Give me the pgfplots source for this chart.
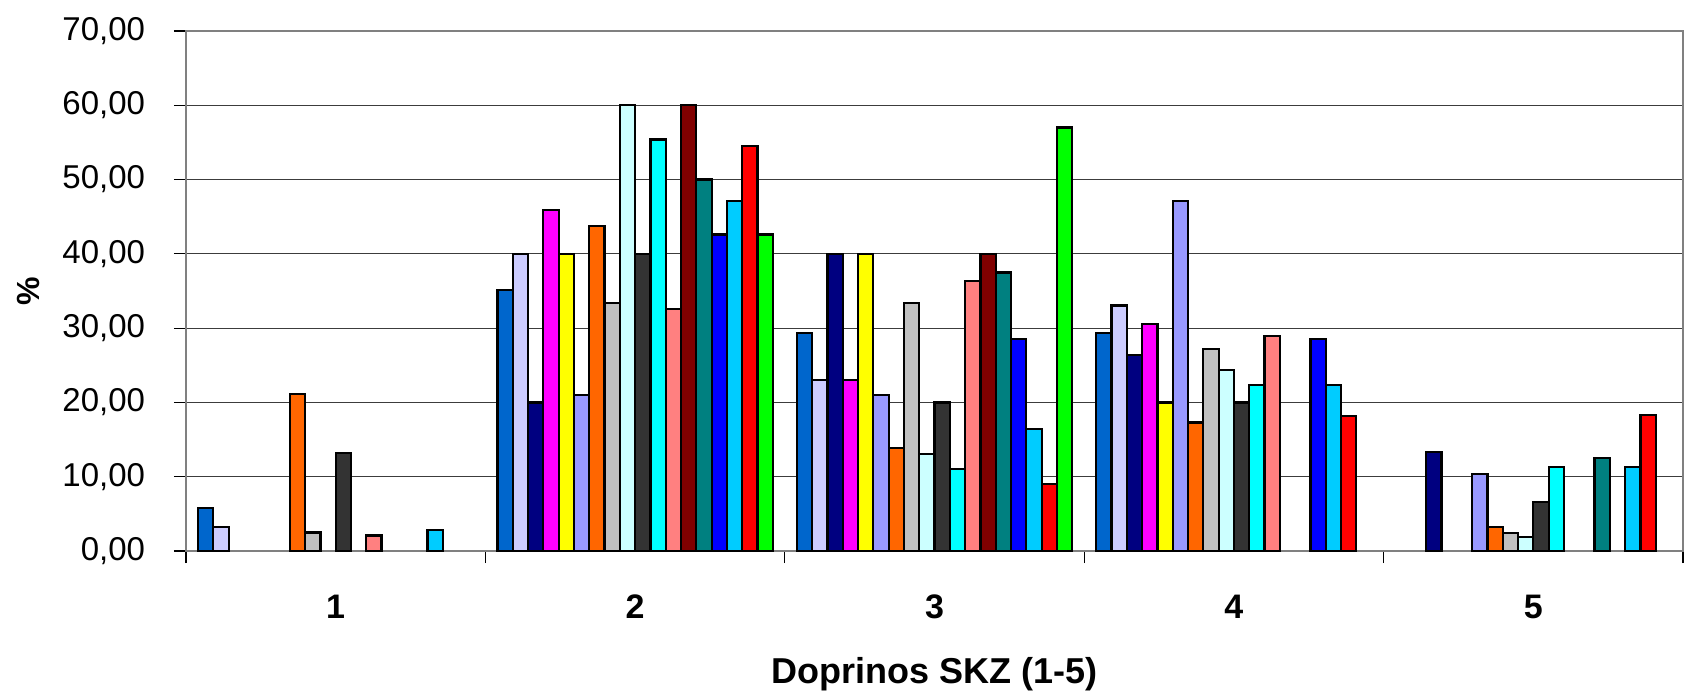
\documentclass[border=0pt]{standalone}
\usepackage{fontspec}
\setmainfont{Liberation Sans}
\usepackage{pgfplots}
\pgfplotsset{compat=1.18}

\definecolor{s0}{HTML}{0066CC}
\definecolor{s1}{HTML}{CCCCFF}
\definecolor{s2}{HTML}{000080}
\definecolor{s3}{HTML}{FF00FF}
\definecolor{s4}{HTML}{FFFF00}
\definecolor{s5}{HTML}{9999FF}
\definecolor{s6}{HTML}{FF6600}
\definecolor{s7}{HTML}{C0C0C0}
\definecolor{s8}{HTML}{CCFFFF}
\definecolor{s9}{HTML}{333333}
\definecolor{s10}{HTML}{00FFFF}
\definecolor{s11}{HTML}{FF8080}
\definecolor{s12}{HTML}{800000}
\definecolor{s13}{HTML}{008080}
\definecolor{s14}{HTML}{0000FF}
\definecolor{s15}{HTML}{00CCFF}
\definecolor{s16}{HTML}{FF0000}
\definecolor{s17}{HTML}{00FF00}
\definecolor{frame}{HTML}{808080}
\definecolor{gridc}{HTML}{3C3C3C}

\begin{document}
\begin{tikzpicture}
% picture frame, 1 px of the reference = 0.5pt
\useasboundingbox (-93pt,-72.5pt) rectangle (750pt,275.5pt);
\begin{axis}[
    at={(0,0)}, anchor=south west,
    scale only axis,
    width=748.5pt, height=260pt,
    ybar=0pt,
    bar width=0.0511,
    xmin=0.5, xmax=5.5,
    ymin=0, ymax=70,
    ytick={0,10,...,70},
    xtick={0.5,1.5,...,5.5},
    xticklabels={},
    extra x ticks={1,2,3,4,5},
    extra x tick labels={1,2,3,4,5},
    extra x tick style={
        major tick length=0pt,
        tick label style={anchor=center, yshift=-28pt,
            font=\fontsize{17}{20}\selectfont\bfseries},
    },
    xtick pos=lower, ytick pos=left,
    tick align=outside,
    major tick length=6pt,
    tick style={draw=black, line width=0.6pt},
    ymajorgrids=true,
    major grid style={draw=gridc, line width=0.6pt},
    axis line style={draw=frame, line width=1.1pt},
    /pgf/number format/.cd, fixed, fixed zerofill, precision=2, use comma,
    assume math mode=true,
    /pgfplots/.cd,
    yticklabel style={anchor=east, inner sep=0pt, xshift=-14.3pt,
        font=\fontsize{16.5}{19}\selectfont},
    ylabel={\%},
    ylabel style={at={(axis description cs:-0.1055,0.5)}, anchor=center,
        font=\fontsize{16}{19}\selectfont\bfseries},
    xlabel={Doprinos SKZ (1-5)},
    xlabel style={at={(axis description cs:0.5,0)}, anchor=center,
        yshift=-61.5pt, font=\fontsize{18}{21}\selectfont\bfseries},
    every axis plot/.append style={draw=black, line width=1.1pt},
]
\addplot[fill=s0]  coordinates {(1,5.75) (2,35.1) (3,29.3) (4,29.3)};
\addplot[fill=s1]  coordinates {(1,3.27) (2,40.0) (3,23.0) (4,33.05)};
\addplot[fill=s2]  coordinates {(2,20.0) (3,40.0) (4,26.4) (5,13.3)};
\addplot[fill=s3]  coordinates {(2,45.9) (3,23.0) (4,30.6)};
\addplot[fill=s4]  coordinates {(2,40.0) (3,40.0) (4,20.0)};
\addplot[fill=s5]  coordinates {(2,21.0) (3,21.0) (4,47.1) (5,10.4)};
\addplot[fill=s6]  coordinates {(1,21.1) (2,43.8) (3,13.9) (4,17.3) (5,3.25)};
\addplot[fill=s7]  coordinates {(1,2.48) (2,33.4) (3,33.4) (4,27.2) (5,2.4)};
\addplot[fill=s8]  coordinates {(2,60.0) (3,13.05) (4,24.4) (5,1.9)};
\addplot[fill=s9]  coordinates {(1,13.24) (2,40.0) (3,20.0) (4,20.0) (5,6.6)};
\addplot[fill=s10] coordinates {(2,55.4) (3,11.0) (4,22.3) (5,11.3)};
\addplot[fill=s11] coordinates {(1,2.08) (2,32.6) (3,36.3) (4,28.9)};
\addplot[fill=s12] coordinates {(2,60.0) (3,40.0)};
\addplot[fill=s13] coordinates {(2,50.0) (3,37.5) (5,12.5)};
\addplot[fill=s14] coordinates {(2,42.6) (3,28.5) (4,28.5)};
\addplot[fill=s15] coordinates {(1,2.88) (2,47.1) (3,16.45) (4,22.3) (5,11.3)};
\addplot[fill=s16] coordinates {(2,54.5) (3,9.0) (4,18.2) (5,18.3)};
\addplot[fill=s17] coordinates {(2,42.6) (3,57.0)};
\end{axis}
\end{tikzpicture}
\end{document}
